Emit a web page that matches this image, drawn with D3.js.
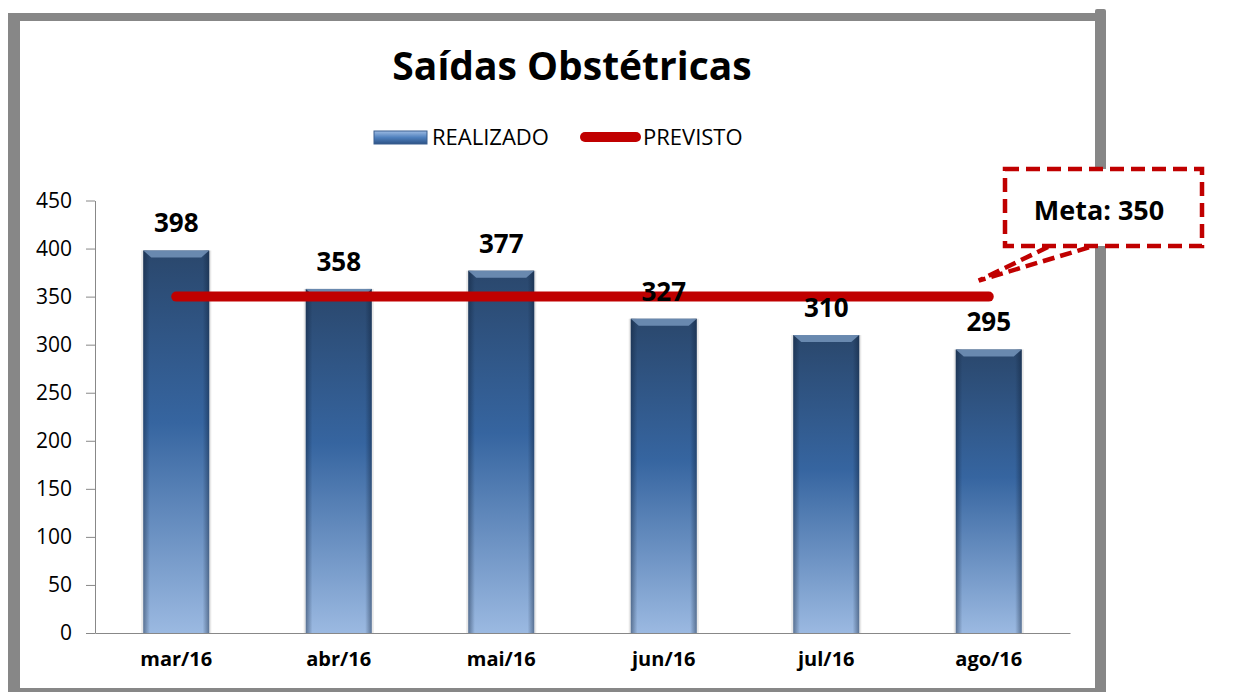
<!DOCTYPE html>
<html>
<head>
<meta charset="utf-8">
<script src="https://cdn.jsdelivr.net/npm/d3@7"></script>
<style>
  html, body { margin: 0; padding: 0; background: #fff; }
  svg { display: block; font-family: "Open Sans", sans-serif; }
</style>
</head>
<body>
<svg id="chart" width="1250" height="692"></svg>
<script>
const months = ['mar/16', 'abr/16', 'mai/16', 'jun/16', 'jul/16', 'ago/16'];
const realizado = [398, 358, 377, 327, 310, 295];
const previsto = [350, 350, 350, 350, 350, 350];
const yTicks = [0, 50, 100, 150, 200, 250, 300, 350, 400, 450];
const metaText = 'Meta: 350';

const svg = d3.select('#chart');
const color = { red: '#c00000', grey: '#888888', frame: '#878787' };

// frame
svg.append('rect').attr('x', 8).attr('y', 13).attr('width', 1098).attr('height', 679).attr('fill', color.frame);
svg.append('rect').attr('x', 1095).attr('y', 9).attr('width', 11).attr('height', 683).attr('rx', 2).attr('fill', color.frame);
svg.append('rect').attr('x', 20).attr('y', 21).attr('width', 1075).attr('height', 667).attr('fill', '#fff');

const defs = svg.append('defs');
const barGrad = defs.append('linearGradient').attr('id', 'barGrad').attr('x1', 0).attr('y1', 0).attr('x2', 0).attr('y2', 1);
barGrad.append('stop').attr('offset', '0%').attr('stop-color', '#2a476c');
barGrad.append('stop').attr('offset', '45%').attr('stop-color', '#3665a0');
barGrad.append('stop').attr('offset', '100%').attr('stop-color', '#9bb9e1');
const edgeGrad = defs.append('linearGradient').attr('id', 'edgeGrad').attr('x1', 0).attr('y1', 0).attr('x2', 1).attr('y2', 0);
edgeGrad.append('stop').attr('offset', '0%').attr('stop-color', '#0d1e36').attr('stop-opacity', 0.45);
edgeGrad.append('stop').attr('offset', '10%').attr('stop-color', '#0d1e36').attr('stop-opacity', 0);
edgeGrad.append('stop').attr('offset', '90%').attr('stop-color', '#0d1e36').attr('stop-opacity', 0);
edgeGrad.append('stop').attr('offset', '100%').attr('stop-color', '#0d1e36').attr('stop-opacity', 0.45);
const legGrad = defs.append('linearGradient').attr('id', 'legGrad').attr('x1', 0).attr('y1', 0).attr('x2', 0).attr('y2', 1);
legGrad.append('stop').attr('offset', '0%').attr('stop-color', '#9dbbe3');
legGrad.append('stop').attr('offset', '50%').attr('stop-color', '#4f80bd');
legGrad.append('stop').attr('offset', '100%').attr('stop-color', '#2c5286');

// title
svg.append('text')
    .attr('x', 572).attr('y', 80)
    .attr('text-anchor', 'middle')
    .style('font-size', '39px').style('font-weight', 700)
    .text('Saídas Obstétricas');

// legend
const legend = svg.append('g');
legend.append('rect').attr('x', 374).attr('y', 131).attr('width', 53).attr('height', 13)
    .attr('fill', 'url(#legGrad)').attr('stroke', '#3a5f8f').attr('stroke-width', 1);
legend.append('text').attr('x', 432).attr('y', 145).style('font-size', '22px').text('REALIZADO');
legend.append('line').attr('x1', 585).attr('x2', 636).attr('y1', 137).attr('y2', 137)
    .attr('stroke', color.red).attr('stroke-width', 10).attr('stroke-linecap', 'round');
legend.append('text').attr('x', 643).attr('y', 145).style('font-size', '22px').text('PREVISTO');

// scales
const x = d3.scaleBand().domain(months).range([95, 1070]).paddingInner(0.594).paddingOuter(0.297);
const y = d3.scaleLinear().domain([0, 450]).range([633, 200.5]);

// axes
const yAxis = svg.append('g').attr('transform', 'translate(95,0)')
    .call(d3.axisLeft(y).tickValues(yTicks).tickSize(9).tickSizeOuter(0).tickPadding(14))
    .attr('font-family', null).attr('font-size', null);
yAxis.selectAll('path, line').attr('stroke', color.grey);
yAxis.selectAll('text').style('font-size', '21px').attr('fill', '#000');

const xAxis = svg.append('g').attr('transform', 'translate(0,633)')
    .call(d3.axisBottom(x).tickSize(0).tickSizeOuter(0).tickPadding(19))
    .attr('font-family', null).attr('font-size', null);
xAxis.select('.domain').attr('stroke', color.grey);
xAxis.selectAll('text').style('font-size', '20px').style('font-weight', 700).attr('fill', '#000');

// bars
const bars = svg.append('g').selectAll('g').data(realizado).enter().append('g');
bars.append('rect')
    .attr('x', (d, i) => x(months[i]) - 2)
    .attr('y', d => y(d))
    .attr('width', x.bandwidth() + 4)
    .attr('height', d => y(0) - y(d))
    .attr('fill', '#d9d9d9').attr('opacity', 0.6);
bars.append('rect')
    .attr('x', (d, i) => x(months[i]))
    .attr('y', d => y(d))
    .attr('width', x.bandwidth())
    .attr('height', d => y(0) - y(d))
    .attr('fill', 'url(#barGrad)');
bars.append('rect')
    .attr('x', (d, i) => x(months[i]))
    .attr('y', d => y(d))
    .attr('width', x.bandwidth())
    .attr('height', d => y(0) - y(d))
    .attr('fill', 'url(#edgeGrad)');
// top bevel
bars.append('path')
    .attr('d', (d, i) => {
      const x0 = x(months[i]), w = x.bandwidth(), t = y(d);
      return `M ${x0} ${t} L ${x0 + w} ${t} L ${x0 + w - 8} ${t + 7} L ${x0 + 8} ${t + 7} Z`;
    })
    .attr('fill', '#7f9fc6').attr('opacity', 0.75);

// previsto line
const line = d3.line().x((d, i) => x(months[i]) + x.bandwidth() / 2).y(d => y(d));
svg.append('path').datum(previsto)
    .attr('d', line)
    .attr('fill', 'none')
    .attr('stroke', color.red).attr('stroke-width', 10).attr('stroke-linecap', 'round');

// value labels
svg.append('g').selectAll('text').data(realizado).enter().append('text')
    .attr('x', (d, i) => x(months[i]) + x.bandwidth() / 2)
    .attr('y', d => y(d) - 18)
    .attr('text-anchor', 'middle')
    .style('font-size', '26px').style('font-weight', 700)
    .text(d => d);

// meta callout
const tipX = x(months[5]) + x.bandwidth() / 2 - 10, tipY = y(previsto[5]) - 16;
const callout = svg.append('g');
callout.append('path')
    .attr('d', `M 1048 247 L ${tipX} ${tipY} L 1090 247`)
    .attr('fill', 'none').attr('stroke', color.red).attr('stroke-width', 4.5).attr('stroke-dasharray', '12,6');
callout.append('rect').attr('x', 1005).attr('y', 169).attr('width', 197).attr('height', 77)
    .attr('fill', '#fff').attr('stroke', color.red).attr('stroke-width', 4.5).attr('stroke-dasharray', '14,7');
callout.append('text').attr('x', 1099).attr('y', 220).attr('text-anchor', 'middle')
    .style('font-size', '27px').style('font-weight', 700).text(metaText);
</script>
</body>
</html>
